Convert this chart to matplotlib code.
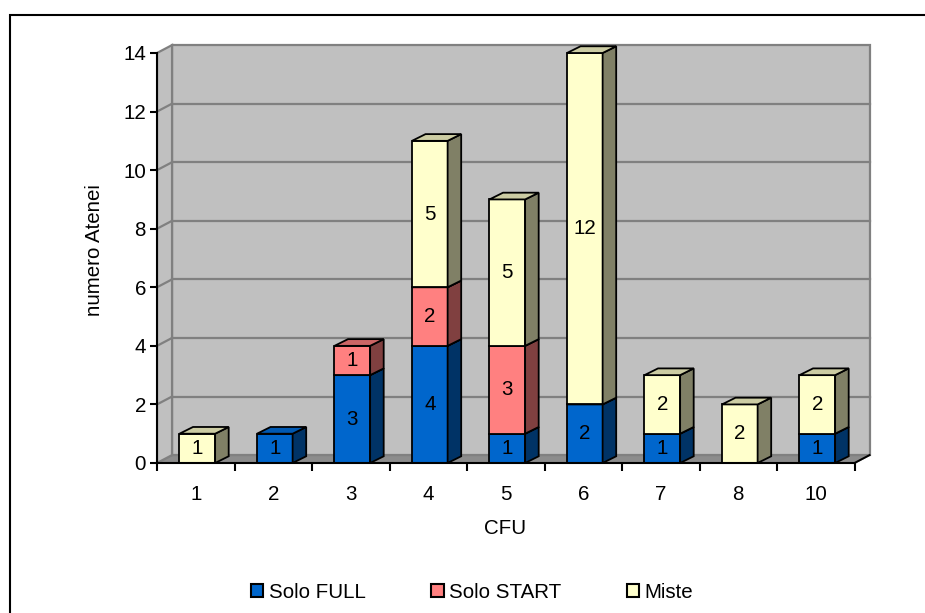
import numpy as np
import matplotlib.pyplot as plt
from matplotlib.patches import Polygon, Rectangle, Patch

plt.rcParams['font.family'] = ['Liberation Sans', 'DejaVu Sans']

# data
cfu = ["1", "2", "3", "4", "5", "6", "7", "8", "10"]
solo_full = [0, 1, 3, 4, 1, 2, 1, 0, 1]
solo_start = [0, 0, 1, 2, 3, 0, 0, 0, 0]
miste = [1, 0, 0, 5, 5, 12, 2, 2, 2]
series_names = ["Solo FULL", "Solo START", "Miste"]

# front / top / side colours (old Excel 3D look)
front_col = ["#0066CC", "#FF8080", "#FFFFCC"]
top_col = ["#0059B3", "#CC6666", "#CCCCA3"]
side_col = ["#003366", "#804040", "#808066"]

W, H = 925, 613
fs = 14.8

fig = plt.figure(figsize=(W / 100, H / 100), dpi=100)

# axes placed so the front plane matches the reference
x_lo, x_hi = -0.5, 8.75
y_lo, y_hi = -0.15, 14.35
px_cat = 77.5
px_val = (463 - 53) / 14
ax_left = 157
ax_bottom = 463 + (-y_lo) * px_val
ax_top = 463 - y_hi * px_val
ax = fig.add_axes([ax_left / W, 1 - ax_bottom / H,
                   (x_hi - x_lo) * px_cat / W, (ax_bottom - ax_top) / H])
ax.set_xlim(x_lo, x_hi)
ax.set_ylim(y_lo, y_hi)
ax.patch.set_visible(False)

n = len(cfu)
ymax = 14
wx, wy = 0.194, 0.27      # wall depth
bdx, bdy = 0.175, 0.23    # bar depth
bw = 0.46
off = 0.02

wall_c = "#C0C0C0"
grid_c = "#808080"

# floor
ax.add_patch(Polygon([(-0.5, 0), (n - 0.5, 0), (n - 0.5 + wx, wy), (-0.5 + wx, wy)],
                     closed=True, fc="#8C8C8C", ec=grid_c, lw=1.4, zorder=0.5))
ax.plot([n - 0.5, n - 0.5 + wx], [0, wy], color="black", lw=1.4, zorder=0.6)
# back wall
ax.add_patch(Rectangle((-0.5 + wx, wy), n, ymax, fc=wall_c, ec=grid_c, lw=1.6, zorder=0.5))
# left wall
ax.add_patch(Polygon([(-0.5, 0), (-0.5 + wx, wy), (-0.5 + wx, ymax + wy), (-0.5, ymax)],
                     closed=True, fc=wall_c, ec=grid_c, lw=1.6, zorder=0.5))
for v in range(2, ymax, 2):
    ax.plot([-0.5 + wx, n - 0.5 + wx], [v + wy, v + wy], color=grid_c, lw=1.6, zorder=0.6)
    ax.plot([-0.5, -0.5 + wx], [v, v + wy], color=grid_c, lw=1.6, zorder=0.6)

# stacked 3D bars
xs = np.arange(n)
series = [np.array(solo_full), np.array(solo_start), np.array(miste)]
base = np.zeros(n)
for k, vals in enumerate(series):
    z = 3 + k
    idx = vals > 0
    ax.bar(xs[idx] + off, vals[idx], bw, bottom=base[idx], color=front_col[k],
           edgecolor="black", linewidth=1.3, zorder=z)
    for i in xs[idx]:
        x0 = i + off - bw / 2
        x1 = x0 + bw
        y0 = base[i]
        y1 = y0 + vals[i]
        ax.add_patch(Polygon([(x1, y0), (x1 + bdx, y0 + bdy), (x1 + bdx, y1 + bdy), (x1, y1)],
                             closed=True, fc=side_col[k], ec="black", lw=1.3, zorder=z))
        ax.add_patch(Polygon([(x0, y1), (x1, y1), (x1 + bdx, y1 + bdy), (x0 + bdx, y1 + bdy)],
                             closed=True, fc=top_col[k], ec="black", lw=1.3, zorder=z))
        ax.text(i + off, y0 + vals[i] / 2, str(vals[i]), ha="center", va="center",
                fontsize=fs, zorder=10)
    base = base + vals

# axes lines and ticks
for s in ["top", "right"]:
    ax.spines[s].set_visible(False)
ax.spines["left"].set_bounds(0, ymax)
ax.spines["bottom"].set_position(("data", 0))
ax.spines["bottom"].set_bounds(-0.5, n - 0.5)
for s in ["left", "bottom"]:
    ax.spines[s].set_linewidth(1.5)
    ax.spines[s].set_zorder(8)

ax.set_yticks(np.arange(0, ymax + 1, 2))
ax.tick_params(axis="y", direction="out", length=5, width=1.5, pad=3, labelsize=fs)
ax.set_xticks(xs)
ax.set_xticklabels(cfu)
ax.set_xticks(np.arange(-0.5, n, 1), minor=True)
ax.tick_params(axis="x", which="major", length=0, pad=16, labelsize=fs)
ax.tick_params(axis="x", which="minor", direction="out", length=6, width=1.5)

ax.set_ylabel("numero Atenei", fontsize=fs, va="center")
ax.yaxis.set_label_coords(95 / W, 1 - 250 / H, transform=fig.transFigure)
ax.set_xlabel("CFU", fontsize=fs, va="center")
ax.xaxis.set_label_coords(505 / W, 1 - 528 / H, transform=fig.transFigure)

handles = [Patch(facecolor=c, edgecolor="black", linewidth=1.5) for c in front_col]
fig.legend(handles, series_names, loc="center", bbox_to_anchor=(472 / W, 1 - 592 / H),
           ncol=3, frameon=False, fontsize=fs, handlelength=0.6, handleheight=0.6,
           handletextpad=0.25, columnspacing=3.2)

# chart border (runs off the right and bottom edge)
fig.patches.append(Rectangle((10 / W, -0.05), 1.2, 1.05 - 15 / H, transform=fig.transFigure,
                             fill=False, ec="black", lw=1.5))

fig.savefig("out.png", dpi=100)
